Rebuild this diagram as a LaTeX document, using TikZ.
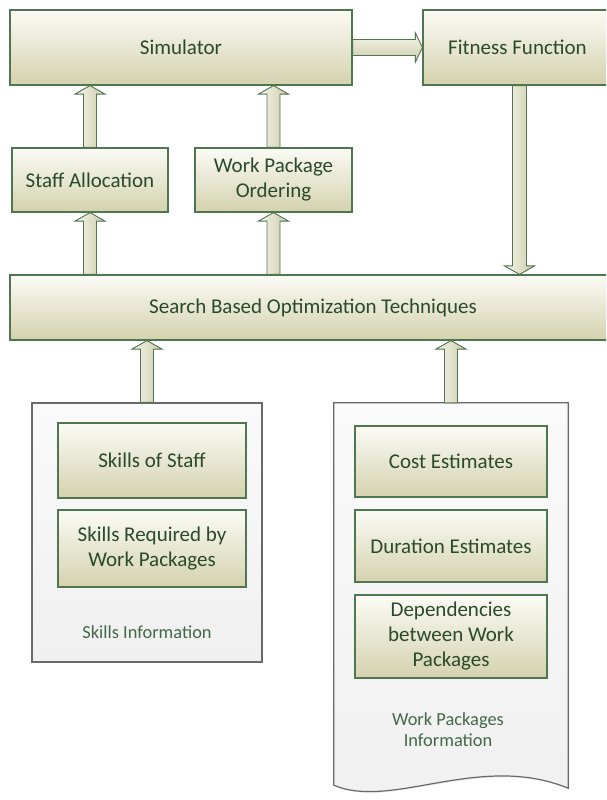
\documentclass[tikz,border=0pt]{standalone}
\usepackage{fontspec}
\setmainfont{Carlito}
\usetikzlibrary{calc,shadows}
\definecolor{boxline}{RGB}{80,118,80}
\definecolor{txt}{RGB}{42,74,42}
\definecolor{lbl}{RGB}{66,104,72}
\definecolor{gtop}{RGB}{251,251,246}
\definecolor{gbot}{RGB}{212,210,174}
\definecolor{ctop}{RGB}{250,250,250}
\definecolor{cbot}{RGB}{240,240,240}
\definecolor{cline}{RGB}{105,105,105}
\definecolor{atl}{RGB}{246,246,236}
\definecolor{atr}{RGB}{204,203,170}
\tikzset{
  gbox/.style={rectangle, draw=boxline, line width=1.2pt, top color=gtop, bottom color=gbot,
    text=txt, font=\fontsize{21}{25}\selectfont, align=center, inner sep=0pt,
    drop shadow={opacity=0.22, shadow xshift=1.3pt, shadow yshift=-1.3pt}},
  cbox/.style={rectangle, draw=cline, line width=1.2pt, top color=ctop, bottom color=cbot, inner sep=0pt,
    drop shadow={opacity=0.15, shadow xshift=1.3pt, shadow yshift=-1.3pt}},
  clabel/.style={text=lbl, font=\fontsize{18.4}{21}\selectfont, align=center, inner sep=0pt},
  varrow/.style={draw=boxline, line width=0.9pt, left color=atl, right color=atr},
  harrow/.style={draw=boxline, line width=0.9pt, top color=atl, bottom color=atr},
}
% up block arrow from point #1 up to point #2 (x taken from #2)
\newcommand\blkup[2]{%
  \path[varrow] let \p1=#1, \p2=#2 in
    (\x2-6.5pt,\y1) -- (\x2-6.5pt,\y2-8.5pt) -- (\x2-15pt,\y2-8.5pt) -- (\x2,\y2)
    -- (\x2+15pt,\y2-8.5pt) -- (\x2+6.5pt,\y2-8.5pt) -- (\x2+6.5pt,\y1) -- cycle;}
% down block arrow from point #1 down to point #2 (x taken from #2)
\newcommand\blkdown[2]{%
  \path[varrow] let \p1=#1, \p2=#2 in
    (\x2-7pt,\y1) -- (\x2-7pt,\y2+8.5pt) -- (\x2-15pt,\y2+8.5pt) -- (\x2,\y2)
    -- (\x2+15pt,\y2+8.5pt) -- (\x2+7pt,\y2+8.5pt) -- (\x2+7pt,\y1) -- cycle;}
% right block arrow from point #1 to point #2 (y taken from #1)
\newcommand\blkright[2]{%
  \path[harrow] let \p1=#1, \p2=#2 in
    (\x1,\y1+8pt) -- (\x2-7pt,\y1+8pt) -- (\x2-7pt,\y1+14.5pt) -- (\x2,\y1)
    -- (\x2-7pt,\y1-14.5pt) -- (\x2-7pt,\y1-8pt) -- (\x1,\y1-8pt) -- cycle;}
\begin{document}
\begin{tikzpicture}[x=1pt,y=-1pt]
\useasboundingbox (0,0) rectangle (606,800);
\clip (0,0) rectangle (606,800);
\fill[white] (0,0) rectangle (606,800);

% top row
\node[gbox, minimum width=342pt, minimum height=75pt] (sim) at (181,47.5) {Simulator};
\node[gbox, minimum width=193pt, minimum height=75pt] (fit) at (519.5,47.5) {\hspace*{-4pt}Fitness Function};
\node[gbox, minimum width=156pt, minimum height=64pt] (sa) at (90,180) {Staff Allocation};
\node[gbox, minimum width=157pt, minimum height=64pt] (wpo) at (273.5,180) {Work Package\\Ordering};
\node[gbox, minimum width=606pt, minimum height=65pt] (sbot) at (313,307.5) {Search Based Optimization Techniques};

% skills information container
\node[cbox, minimum width=230pt, minimum height=259pt] (sinfo) at (147,532.5) {};
\node[gbox, minimum width=188pt, minimum height=75pt] (sos) at (152,460.5) {Skills of Staff};
\node[gbox, minimum width=188pt, minimum height=77pt] (srq) at (152,548.5) {Skills Required by\\Work Packages};
\node[clabel] (sinfol) at (147,632) {Skills Information};

% work packages information document
\node[rectangle, minimum width=234pt, minimum height=382pt, inner sep=0pt] (wpi) at (451,594) {};
\path[draw=cline, line width=1.2pt, top color=ctop, bottom color=cbot,
      drop shadow={opacity=0.15, shadow xshift=1.3pt, shadow yshift=-1.3pt}]
  (wpi.north west) -- (wpi.north east) -- ($(wpi.south east)+(0,3)$)
  .. controls (480,752) and (392,810) .. (wpi.south west) -- cycle;
\node[gbox, minimum width=192pt, minimum height=71pt] (cost) at (451,461.5) {Cost Estimates};
\node[gbox, minimum width=192pt, minimum height=72pt] (dur) at (451,546) {Duration Estimates};
\node[gbox, minimum width=192pt, minimum height=83pt] (dep) at (451,636.5) {Dependencies\\between Work\\Packages};
\node[clabel] (wpil) at (448,730) {Work Packages\\Information};

% block arrows
\blkright{(sim.east)}{(fit.west)}
\blkup{(sa.north)}{(sa.north |- sim.south)}
\blkup{(wpo.north)}{(wpo.north |- sim.south)}
\blkup{(sa.south |- sbot.north)}{(sa.south)}
\blkup{(wpo.south |- sbot.north)}{(wpo.south)}
\blkdown{(fit.south)}{(fit.south |- sbot.north)}
\blkup{(sinfo.north)}{(sinfo.north |- sbot.south)}
\blkup{(wpi.north)}{(wpi.north |- sbot.south)}
\end{tikzpicture}
\end{document}
